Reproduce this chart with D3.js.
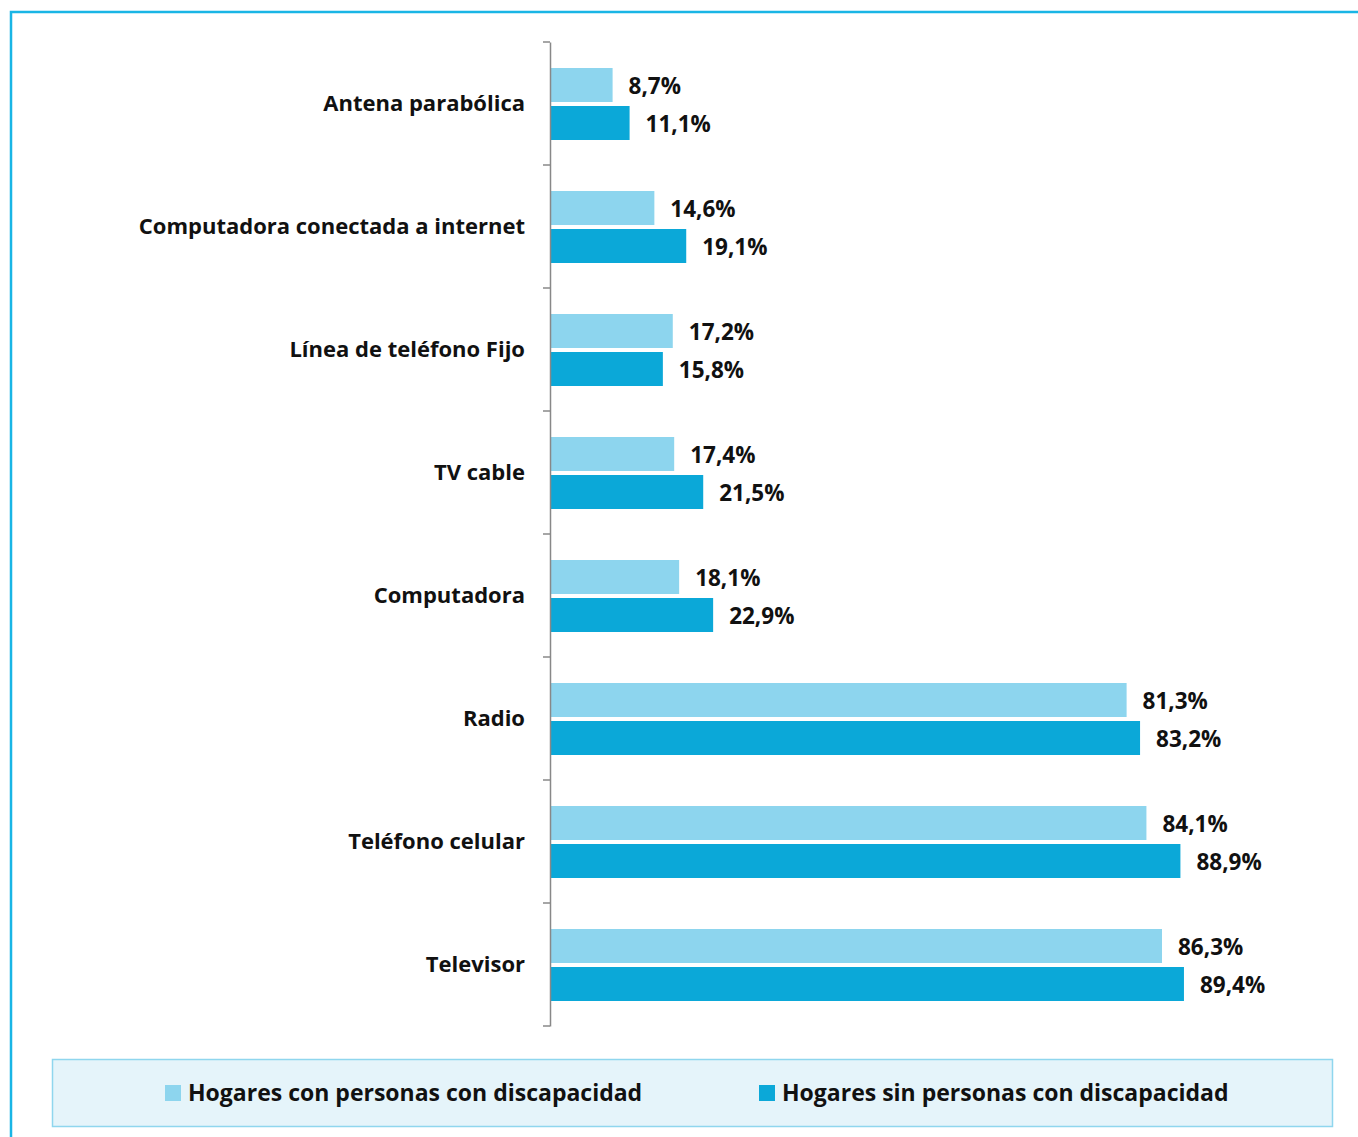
<!DOCTYPE html>
<html><head><meta charset="utf-8">
<script src="https://cdn.jsdelivr.net/npm/d3@7"></script>
<style>body{margin:0;background:#fff}svg{display:block}</style>
</head><body>
<script>
const categories = ["Antena parabólica","Computadora conectada a internet","Línea de teléfono Fijo","TV cable","Computadora","Radio","Teléfono celular","Televisor"];
const conDiscapacidad = [8.7,14.6,17.2,17.4,18.1,81.3,84.1,86.3];
const sinDiscapacidad = [11.1,19.1,15.8,21.5,22.9,83.2,88.9,89.4];
const seriesNames = ["Hogares con personas con discapacidad","Hogares sin personas con discapacidad"];
const colors = ["#8dd5ee","#0ba8d8"];

const W=1358,H=1137;
const svg=d3.select("body").append("svg").attr("width",W).attr("height",H);
const font="'Open Sans', sans-serif";

// outer frame
svg.append("rect").attr("x",11).attr("y",12).attr("width",W+10).attr("height",H+10)
  .attr("fill","none").attr("stroke","#19b5e5").attr("stroke-width",2.5);

const x=d3.scaleLinear().domain([0,100]).range([551,1259]);
const y=d3.scaleBand().domain(categories).range([42,1026]).paddingInner(0).paddingOuter(0);
const sub=d3.scaleBand().domain([0,1]).range([0,72]).paddingInner(4/38);
const off=(y.bandwidth()-72)/2+0.5;

const data=categories.map((c,i)=>({c,vals:[conDiscapacidad[i],sinDiscapacidad[i]]}));
const g=svg.append("g");
const grp=g.selectAll("g.cat").data(data).join("g").attr("transform",d=>`translate(0,${y(d.c)+off})`);
grp.selectAll("rect").data(d=>d.vals).join("rect")
  .attr("x",x(0)).attr("y",(d,i)=>sub(i)).attr("width",d=>x(d)-x(0)).attr("height",sub.bandwidth())
  .attr("fill",(d,i)=>colors[i]);
grp.selectAll("text").data(d=>d.vals).join("text")
  .attr("x",d=>x(d)+16).attr("y",(d,i)=>sub(i)+sub.bandwidth()/2+1).attr("dy","0.36em")
  .attr("font-family",font).attr("font-weight","bold").attr("font-size",22.5).attr("fill","#111")
  .text(d=>d3.format(".1f")(d).replace(".",",")+"%");

// axis
const ax=svg.append("g").attr("transform","translate(550,0)")
  .call(d3.axisLeft(y).tickSize(0).tickPadding(25).tickSizeOuter(0));
ax.select(".domain").attr("stroke","#888").attr("stroke-width",1.5);
ax.selectAll("text").attr("font-family",font).attr("font-weight","bold").attr("font-size",22).attr("fill","#111");
// tick marks at band boundaries
const bounds=categories.map(c=>y(c)).concat([y.range()[1]]);
svg.append("g").selectAll("line").data(bounds).join("line")
  .attr("x1",543).attr("x2",550).attr("y1",d=>d).attr("y2",d=>d)
  .attr("stroke","#888").attr("stroke-width",1.5);

// legend
svg.append("rect").attr("x",52.5).attr("y",1059.5).attr("width",1280).attr("height",67)
  .attr("fill","#e5f4fa").attr("stroke","#8fd6ee").attr("stroke-width",1.5);
const lx=[165,759];
const lg=svg.append("g").selectAll("g").data(seriesNames).join("g")
  .attr("transform",(d,i)=>`translate(${lx[i]},1085)`);
lg.append("rect").attr("width",16).attr("height",16).attr("fill",(d,i)=>colors[i]);
lg.append("text").attr("x",23).attr("y",8).attr("dy","0.36em")
  .attr("font-family",font).attr("font-weight","bold").attr("font-size",23).attr("fill","#111").text(d=>d);
</script>
</body></html>
